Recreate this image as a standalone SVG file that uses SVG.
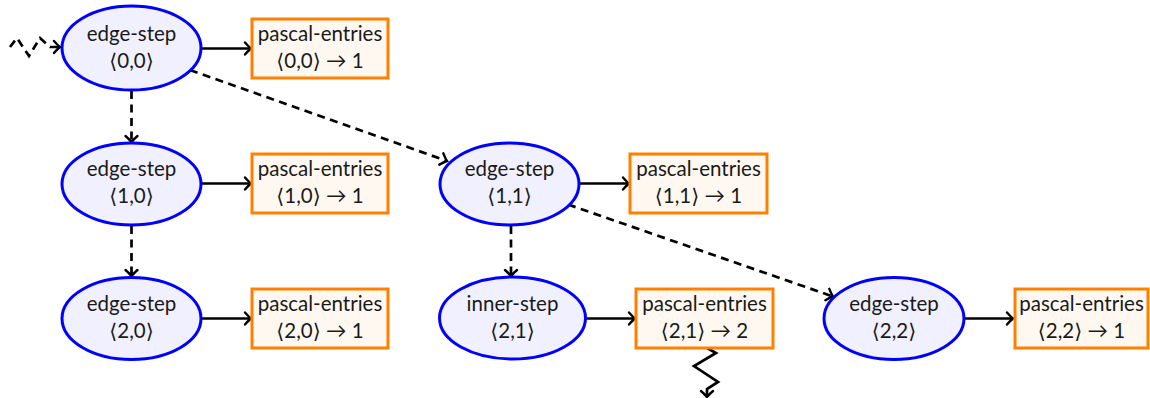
<svg xmlns="http://www.w3.org/2000/svg" width="1150" height="398" viewBox="0 0 1150 398">
  <style>
    .step ellipse { fill: #f0f0fe; stroke: #0000ff; stroke-width: 3; }
    .entry rect { fill: #fff8f1; stroke: #ff8000; stroke-width: 3; }
    text { font-family: "Lato", "DejaVu Sans", sans-serif; font-size: 20.5px; fill: #1a1a1a; text-anchor: middle; }
    .edge { fill: none; stroke: #000; stroke-width: 2.7; marker-end: url(#to); }
    .dash { stroke-dasharray: 8 5.5; }
  </style>
  <defs>
    <marker id="to" markerUnits="userSpaceOnUse" markerWidth="14" markerHeight="14" viewBox="-10 -7 12 14" refX="0" refY="0" orient="auto" overflow="visible">
      <path d="M-6,-6 Q-2,-1.5 0,0 Q-2,1.5 -6,6" fill="none" stroke="#000" stroke-width="2.4" stroke-linecap="round"/>
    </marker>
  </defs>

  <!-- connectors -->
  <g id="connectors">
    <path class="edge dash" d="M10,47 L17,38 L29,56 L40,38 L50,47 L60,47"/>
    <path class="edge" d="M201,48.5 H251"/>
    <path class="edge" d="M201,183.5 H251"/>
    <path class="edge" d="M201,318.5 H251"/>
    <path class="edge" d="M579,183.5 H629"/>
    <path class="edge" d="M586,318.5 H635"/>
    <path class="edge" d="M964,318.5 H1013"/>
    <path class="edge dash" d="M131.5,91 V142"/>
    <path class="edge dash" d="M131.5,226 V276"/>
    <path class="edge dash" d="M511,226 V276"/>
    <path class="edge dash" d="M190,70 L447,161"/>
    <path class="edge dash" d="M568,204.5 L833,296.5"/>
    <path class="edge" d="M707,348 L716,353 L694,366 L718,382 L707,389 V397"/>
  </g>

  <!-- row 0 -->
  <g id="step-0-0" class="step">
    <ellipse cx="131.5" cy="48" rx="69.5" ry="42"/>
    <text x="131.5" y="40.5">edge-step</text>
    <text x="131.5" y="67.5">⟨0,0⟩</text>
  </g>
  <g id="entry-0-0" class="entry">
    <rect x="252" y="19" width="136" height="59"/>
    <text x="320" y="40.5">pascal-entries</text>
    <text x="320" y="67.5">⟨0,0⟩ → 1</text>
  </g>

  <!-- row 1 -->
  <g id="step-1-0" class="step">
    <ellipse cx="131.5" cy="184" rx="69.5" ry="41"/>
    <text x="131.5" y="175.5">edge-step</text>
    <text x="131.5" y="202.5">⟨1,0⟩</text>
  </g>
  <g id="entry-1-0" class="entry">
    <rect x="252" y="154" width="136" height="59"/>
    <text x="320" y="175.5">pascal-entries</text>
    <text x="320" y="202.5">⟨1,0⟩ → 1</text>
  </g>
  <g id="step-1-1" class="step">
    <ellipse cx="509.5" cy="184" rx="69.5" ry="41"/>
    <text x="509.5" y="175.5">edge-step</text>
    <text x="509.5" y="202.5">⟨1,1⟩</text>
  </g>
  <g id="entry-1-1" class="entry">
    <rect x="630" y="154" width="137" height="59"/>
    <text x="698.5" y="175.5">pascal-entries</text>
    <text x="698.5" y="202.5">⟨1,1⟩ → 1</text>
  </g>

  <!-- row 2 -->
  <g id="step-2-0" class="step">
    <ellipse cx="131.5" cy="318.5" rx="69.5" ry="41"/>
    <text x="131.5" y="310.5">edge-step</text>
    <text x="131.5" y="337.5">⟨2,0⟩</text>
  </g>
  <g id="entry-2-0" class="entry">
    <rect x="252" y="289" width="136" height="59"/>
    <text x="320" y="310.5">pascal-entries</text>
    <text x="320" y="337.5">⟨2,0⟩ → 1</text>
  </g>
  <g id="step-2-1" class="step">
    <ellipse cx="512.5" cy="318" rx="73" ry="41"/>
    <text x="512.5" y="310.5">inner-step</text>
    <text x="512.5" y="337.5">⟨2,1⟩</text>
  </g>
  <g id="entry-2-1" class="entry">
    <rect x="636" y="289" width="137" height="59"/>
    <text x="704.5" y="310.5">pascal-entries</text>
    <text x="704.5" y="337.5">⟨2,1⟩ → 2</text>
  </g>
  <g id="step-2-2" class="step">
    <ellipse cx="894" cy="318.5" rx="70" ry="41"/>
    <text x="894" y="310.5">edge-step</text>
    <text x="894" y="337.5">⟨2,2⟩</text>
  </g>
  <g id="entry-2-2" class="entry">
    <rect x="1015" y="289" width="133" height="59"/>
    <text x="1081.5" y="310.5">pascal-entries</text>
    <text x="1081.5" y="337.5">⟨2,2⟩ → 1</text>
  </g>
</svg>
